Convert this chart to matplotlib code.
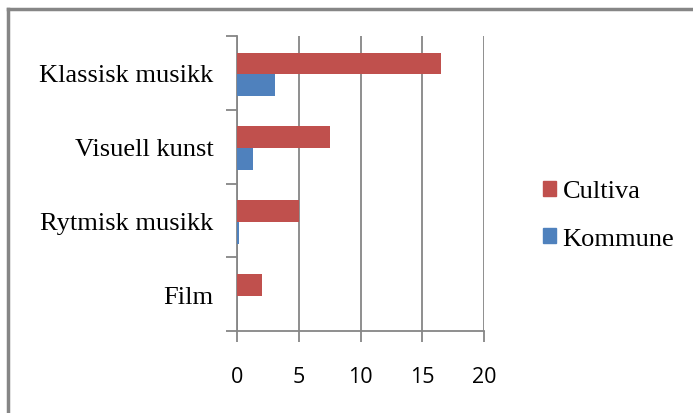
import numpy as np
import matplotlib.pyplot as plt
from matplotlib.lines import Line2D
from matplotlib.patches import Patch

categories = ["Film", "Rytmisk musikk", "Visuell kunst", "Klassisk musikk"]
cultiva = [2.0, 5.0, 7.5, 16.55]
kommune = [0.0, 0.15, 1.27, 3.05]

red = "#c0504d"
blue = "#4f81bd"
grey = "#868686"

fig = plt.figure(figsize=(6.93, 4.14), dpi=100)
ax = fig.add_axes([237/693, 1-332/414, (484-237)/693, (332-37)/414])

y = np.arange(len(categories)) - 0.02
h = 0.295
ax.barh(y + h/2, cultiva, height=h, color=red, zorder=3)
ax.barh(y - h/2, kommune, height=h, color=blue, zorder=3)

ax.set_xlim(0, 20)
ax.set_ylim(-0.5, len(categories) - 0.5)
ax.set_xticks([0, 5, 10, 15, 20])
ax.set_xticklabels(["0", "5", "10", "15", "20"], fontfamily="Open Sans", fontsize=15.5)
ax.grid(axis="x", color=grey, linewidth=1.3, zorder=0)

# category ticks at boundaries, labels at centres
ax.set_yticks(np.arange(-0.5, len(categories)), minor=False)
ax.set_yticklabels([])
ax.set_yticks(np.arange(len(categories)), minor=True)
ax.set_yticklabels(categories, minor=True, fontfamily="Liberation Serif", fontsize=19)
ax.tick_params(axis="y", which="minor", length=0, pad=17)
ax.tick_params(axis="y", which="major", length=8, width=1.3, color=grey)
ax.tick_params(axis="x", length=8, width=1.3, color=grey, pad=17)

for s in ["top", "right"]:
    ax.spines[s].set_visible(False)
for s in ["left", "bottom"]:
    ax.spines[s].set_color(grey)
    ax.spines[s].set_linewidth(1.3)

handles = [Patch(color=red, label="Cultiva"), Patch(color=blue, label="Kommune")]
fig.legend(handles=handles, loc="center left", bbox_to_anchor=(519/693, 1-216/414),
           frameon=False, prop={"family": "Liberation Serif", "size": 19},
           handlelength=0.5, handleheight=0.5, handletextpad=0.25, labelspacing=0.95)

# outer chart frame (only top and left visible)
fig.add_artist(Line2D([8/693, 8/693], [0, 1-10/414], color=grey, linewidth=2.5))
fig.add_artist(Line2D([8/693, 1], [1-10/414, 1-10/414], color=grey, linewidth=2.5))

fig.savefig("out.png", dpi=100)
